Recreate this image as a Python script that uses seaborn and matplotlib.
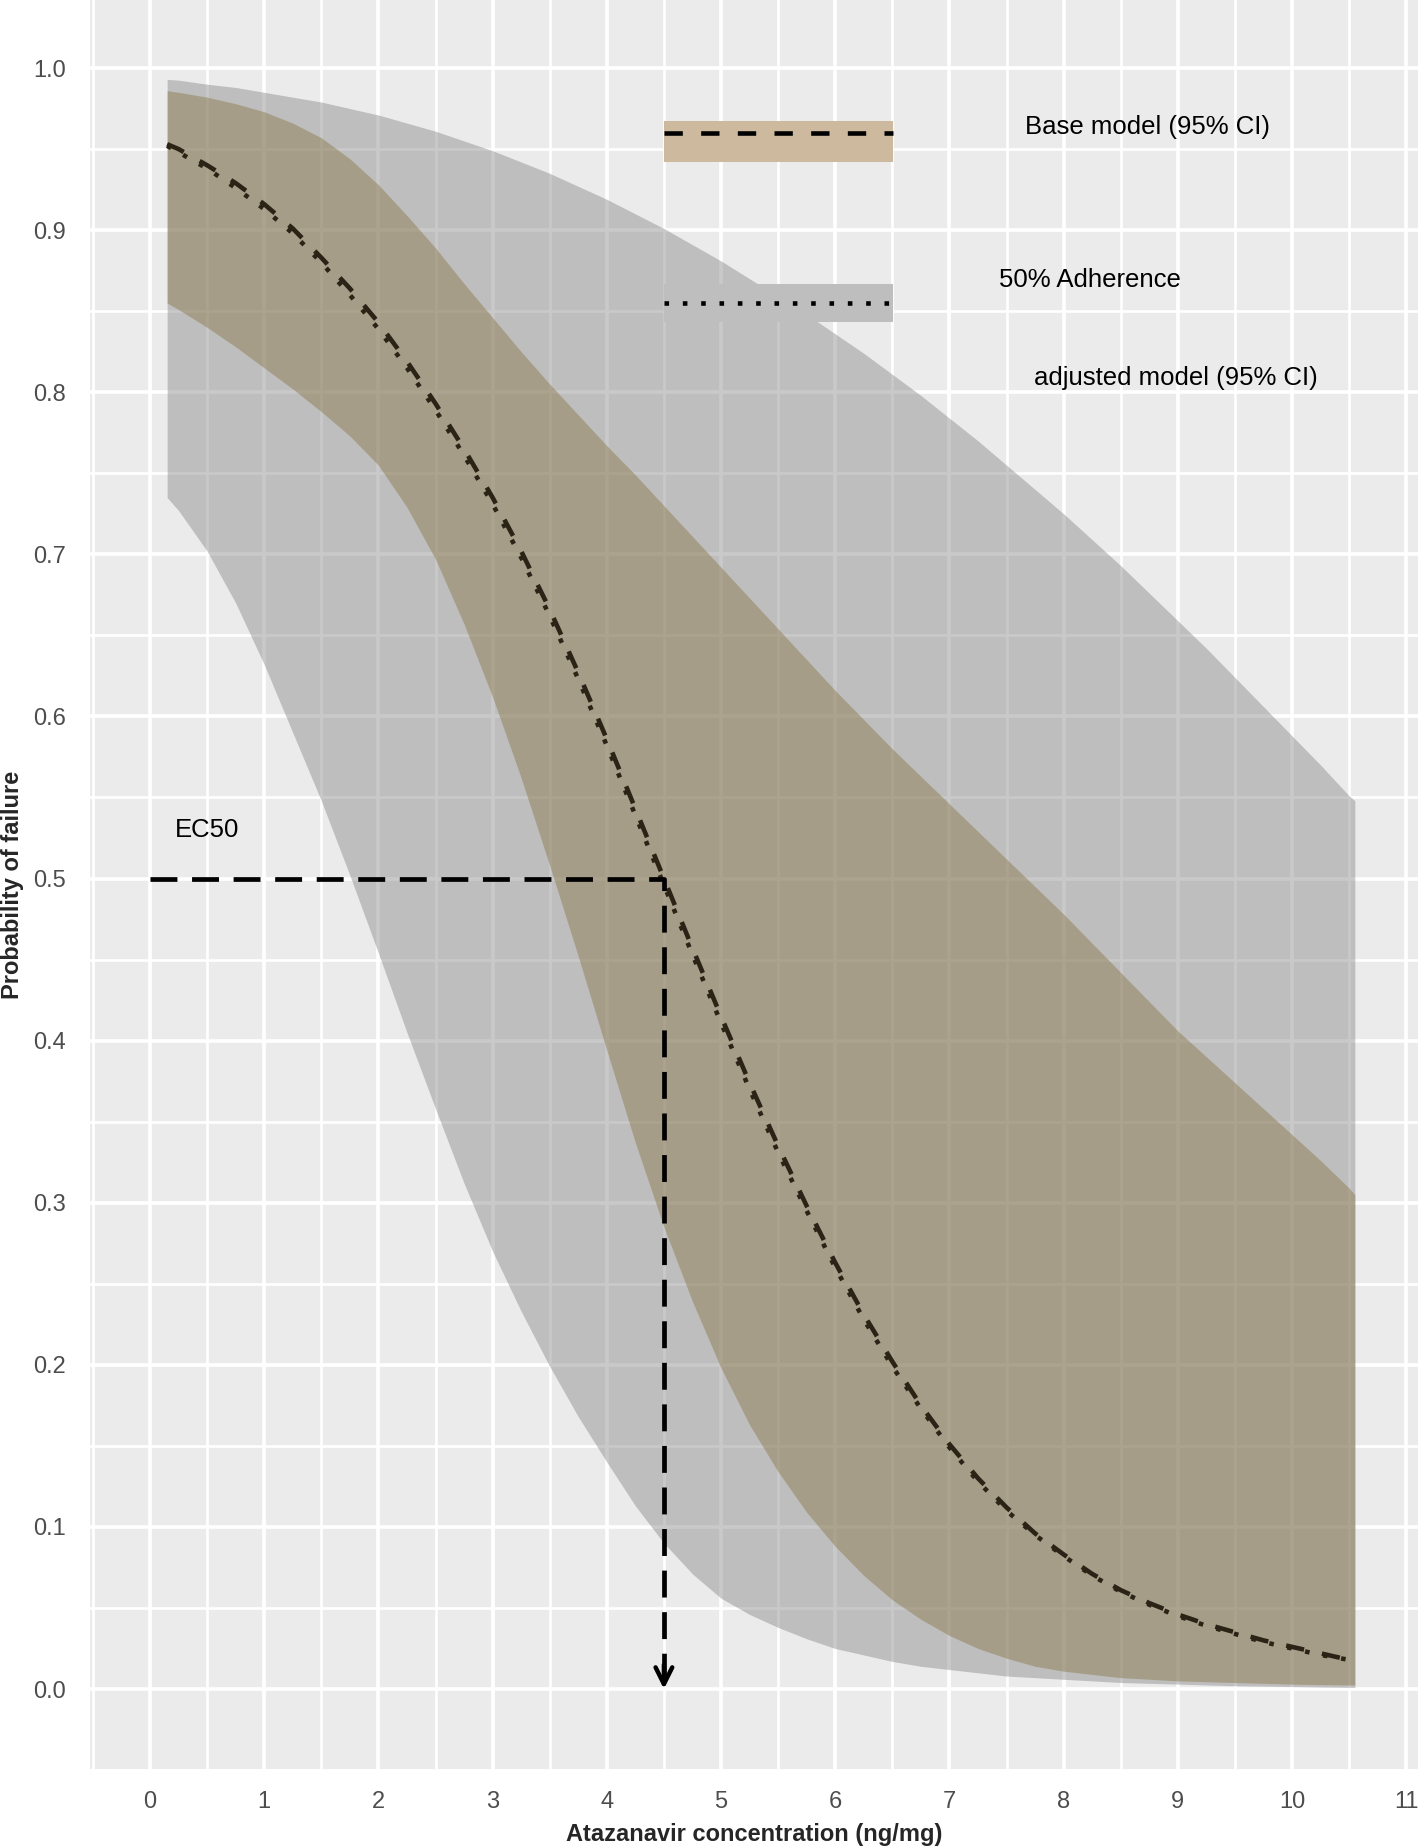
import numpy as np
import pandas as pd
import seaborn as sns
import matplotlib.pyplot as plt
from matplotlib.patches import Rectangle

# ------------------------------
# data
# ------------------------------
conc = [0.15, 0.25, 0.5, 0.75, 1.0, 1.25, 1.5, 1.75, 2.0, 2.25, 2.5, 2.75, 3.0, 3.25, 3.5, 3.75,
        4.0, 4.25, 4.5, 4.75, 5.0, 5.25, 5.5, 5.75, 6.0, 6.25, 6.5, 6.75, 7.0, 7.25, 7.5, 7.75,
        8.0, 8.25, 8.5, 8.75, 9.0, 9.25, 9.5, 9.75, 10.0, 10.25, 10.5, 10.55]

# base model fit and 95% CI
base_fit = [0.953, 0.950, 0.940, 0.929, 0.916, 0.901, 0.883, 0.864, 0.843, 0.819, 0.793, 0.765,
            0.735, 0.702, 0.666, 0.627, 0.586, 0.543, 0.500, 0.457, 0.415, 0.374, 0.335, 0.298,
            0.263, 0.231, 0.202, 0.175, 0.151, 0.130, 0.112, 0.096, 0.083, 0.071, 0.061, 0.053,
            0.046, 0.040, 0.035, 0.030, 0.026, 0.022, 0.018, 0.017]
base_lo = [0.855, 0.851, 0.840, 0.828, 0.815, 0.802, 0.788, 0.773, 0.755, 0.729, 0.697, 0.657,
           0.612, 0.562, 0.508, 0.452, 0.394, 0.337, 0.285, 0.239, 0.198, 0.163, 0.134, 0.109,
           0.088, 0.070, 0.055, 0.043, 0.033, 0.025, 0.019, 0.014, 0.011, 0.009, 0.007, 0.006,
           0.005, 0.0045, 0.004, 0.0035, 0.003, 0.0027, 0.0025, 0.0025]
base_hi = [0.986, 0.985, 0.982, 0.978, 0.973, 0.966, 0.957, 0.944, 0.928, 0.909, 0.889, 0.867,
           0.846, 0.825, 0.805, 0.786, 0.767, 0.749, 0.730, 0.711, 0.692, 0.673, 0.654, 0.635,
           0.616, 0.598, 0.580, 0.563, 0.546, 0.529, 0.512, 0.495, 0.478, 0.460, 0.442, 0.424,
           0.406, 0.390, 0.374, 0.358, 0.342, 0.326, 0.309, 0.305]

# 50% adherence adjusted model fit and 95% CI
adj_fit = [0.952, 0.948, 0.938, 0.926, 0.913, 0.898, 0.880, 0.860, 0.839, 0.815, 0.789, 0.761,
           0.731, 0.698, 0.662, 0.623, 0.582, 0.539, 0.496, 0.453, 0.411, 0.370, 0.331, 0.295,
           0.260, 0.228, 0.199, 0.173, 0.149, 0.128, 0.110, 0.095, 0.082, 0.070, 0.060, 0.052,
           0.045, 0.039, 0.034, 0.029, 0.025, 0.021, 0.018, 0.017]
adj_lo = [0.735, 0.727, 0.702, 0.670, 0.632, 0.590, 0.548, 0.502, 0.454, 0.405, 0.358, 0.312,
          0.270, 0.233, 0.199, 0.168, 0.140, 0.113, 0.090, 0.071, 0.056, 0.046, 0.038, 0.031,
          0.025, 0.021, 0.017, 0.014, 0.012, 0.010, 0.008, 0.007, 0.006, 0.005, 0.004, 0.0035,
          0.003, 0.0025, 0.002, 0.0018, 0.0015, 0.0012, 0.001, 0.001]
adj_hi = [0.993, 0.9925, 0.990, 0.988, 0.985, 0.982, 0.979, 0.975, 0.971, 0.966, 0.961, 0.955,
          0.949, 0.942, 0.935, 0.927, 0.919, 0.910, 0.901, 0.891, 0.881, 0.870, 0.859, 0.848,
          0.836, 0.824, 0.811, 0.798, 0.784, 0.770, 0.755, 0.740, 0.725, 0.709, 0.693, 0.676,
          0.659, 0.642, 0.624, 0.606, 0.588, 0.570, 0.551, 0.548]

ec50 = 4.5
x_ticks = list(range(0, 12))
y_ticks = [0.0, 0.1, 0.2, 0.3, 0.4, 0.5, 0.6, 0.7, 0.8, 0.9, 1.0]

df = pd.DataFrame({"conc": conc, "base": base_fit, "adj": adj_fit})

# ------------------------------
# style
# ------------------------------
sns.set_theme(style="darkgrid", rc={
    "axes.facecolor": "#EBEBEB",
    "grid.color": "white",
    "axes.edgecolor": "#EBEBEB",
})
plt.rcParams['font.family'] = ['Liberation Sans', 'DejaVu Sans']

W, H = 1418, 1848
fig = plt.figure(figsize=(W / 100, H / 100), dpi=100)
fig.patch.set_facecolor("white")
ax = fig.add_axes([90 / W, 79 / H, 1328 / W, 1769 / H])

# ribbons
ax.fill_between(conc, adj_lo, adj_hi, color="#808080", alpha=0.42, lw=0, zorder=2)
ax.fill_between(conc, base_lo, base_hi, color="#8E7E52", alpha=0.5, lw=0, zorder=3)

# fitted curves
line_col = "#2B2416"
sns.lineplot(data=df, x="conc", y="base", ax=ax, color=line_col, lw=3.3,
             linestyle=(0, (4, 4)), zorder=5)
sns.lineplot(data=df, x="conc", y="adj", ax=ax, color=line_col, lw=3.3,
             linestyle=(0, (1, 3)), zorder=5)
for ln in ax.lines:
    ln.set_dash_capstyle("butt")

# EC50 guide
ax.plot([0, ec50, ec50], [0.5, 0.5, 0.004], color="black", lw=3.4,
        linestyle=(0, (5.7, 3.1)), dash_capstyle="butt", solid_joinstyle="miter", zorder=6)
ax.annotate("", xy=(ec50, 0.0), xytext=(ec50, 0.015),
            arrowprops=dict(arrowstyle="->,head_length=0.6,head_width=0.3",
                            lw=3.2, color="black", mutation_scale=20,
                            shrinkA=0, shrinkB=0), zorder=6)
ax.text(0.22, 0.530, "EC50", fontsize=18.5, color="black", ha="left", va="center")

# hand-placed legend keys
ax.add_patch(Rectangle((4.505, 0.942), 2.0, 0.025, facecolor="#CDB99D", lw=0, zorder=4))
ax.plot([4.505, 6.505], [0.960, 0.960], color="black", lw=3.3,
        linestyle=(0, (4, 4)), dash_capstyle="butt", zorder=5)
ax.add_patch(Rectangle((4.505, 0.843), 2.0, 0.024, facecolor="#BEBEBE", lw=0, zorder=4))
ax.plot([4.505, 6.505], [0.855, 0.855], color="black", lw=3.3,
        linestyle=(0, (1, 3)), dash_capstyle="butt", zorder=5)
ax.text(7.66, 0.9638, "Base model (95% CI)", fontsize=18.5, color="black", ha="left", va="center")
ax.text(7.43, 0.869, "50% Adherence", fontsize=18.5, color="black", ha="left", va="center")
ax.text(7.74, 0.809, "adjusted model (95% CI)", fontsize=18.5, color="black", ha="left", va="center")

# axes, grid
ax.set_xticks(x_ticks)
ax.set_xticklabels([str(t) for t in x_ticks])
ax.set_yticks(y_ticks)
ax.set_yticklabels([f"{t:.1f}" for t in y_ticks])
ax.set_xticks(np.arange(-0.5, 11.01, 0.5), minor=True)
ax.set_yticks(np.arange(0.0, 1.001, 0.05), minor=True)
ax.set_xlim(-0.5254, 11.103)
ax.set_ylim(-0.04935, 1.04195)
ax.grid(which="major", color="white", lw=2.6)
ax.grid(which="minor", color="white", lw=1.9)
ax.set_axisbelow(True)
for s in ax.spines.values():
    s.set_visible(False)

ax.tick_params(axis="both", which="major", length=9, width=2.2, color="#333333",
               labelsize=17, labelcolor="#4D4D4D")
ax.tick_params(axis="y", which="major", pad=8.5)
ax.tick_params(axis="x", which="major", pad=6.5)
ax.tick_params(which="minor", length=0)

ax.set_xlabel("Atazanavir concentration (ng/mg)", fontsize=17, fontweight="bold", va="center")
ax.xaxis.set_label_coords(0.5, -0.0373)
ax.set_ylabel("Probability of failure", fontsize=17, fontweight="bold", va="center")
ax.yaxis.set_label_coords(-0.0587, 0.5)

fig.savefig("out.png", dpi=100)
